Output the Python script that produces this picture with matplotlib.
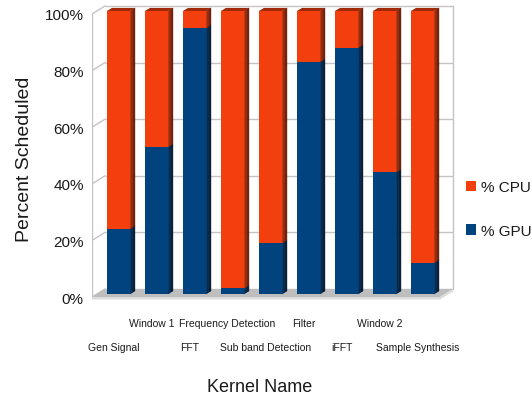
import matplotlib
matplotlib.use("Agg")
import matplotlib.pyplot as plt
from matplotlib.patches import Polygon, Patch
from matplotlib import font_manager
import numpy as np

# ---- data -------------------------------------------------------------
kernels = ["Gen Signal", "Window 1", "FFT", "Frequency Detection",
           "Sub band Detection", "Filter", "iFFT", "Window 2",
           "Sample Synthesis"]
gpu_pct = [23, 52, 94, 2, 18, 82, 87, 43, 11]
cpu_pct = [77, 48, 6, 98, 82, 18, 13, 57, 89]
y_ticks = [0, 20, 40, 60, 80, 100]
y_tick_labels = ["0%", "20%", "40%", "60%", "80%", "100%"]

# ---- style ------------------------------------------------------------
names = {f.name for f in font_manager.fontManager.ttflist}
FONT = "Liberation Sans"
NARROW = "Liberation Sans Narrow" if "Liberation Sans Narrow" in names else FONT
plt.rcParams["font.family"] = [FONT, "DejaVu Sans"]

CPU = "#f23f0d"
GPU = "#00437f"
CPU_SIDE = ("#c2320a", "#5e1604")
GPU_SIDE = ("#003566", "#00152b")
CPU_TOP = "#a02a08"
GPU_TOP = "#002c55"
GRID = "#c4c4c4"
TEXT = "#1a1a1a"

# pseudo-3D geometry (data units: x = category, y = percent)
bar_w = 0.605
DX, DY = 0.342, 2.83          # depth vector of the chart box
F1, F2 = 0.375, 0.76          # front / back depth of the bars
X0, X1 = -0.568, 8.59         # front edge of the floor

fig = plt.figure(figsize=(5.32, 4.02), dpi=100)
ax = fig.add_axes([92 / 532, 1 - 302 / 402, 363 / 532, 299 / 402])
ax.set_xlim(-0.568, 8.984)
ax.set_ylim(-1.413, 104.24)
for s in ax.spines.values():
    s.set_visible(False)

# back wall grid, left slanted edges and box outline
for v in y_ticks:
    ax.plot([X0 + DX, X1 + DX], [v + DY, v + DY], color=GRID, lw=1.0,
            zorder=0, solid_capstyle="butt")
    ax.plot([X0, X0 + DX], [v, v + DY], color=GRID, lw=1.0, zorder=0)
ax.plot([X0, X0], [0, 100], color=GRID, lw=1.0, zorder=0)
ax.plot([X1 + DX, X1 + DX], [DY, 100 + DY], color=GRID, lw=1.0, zorder=0)

# floor
ax.add_patch(Polygon([(X0, 0), (X1, 0), (X1 + DX, DY), (X0 + DX, DY)],
                     closed=True, facecolor="#bebebe", edgecolor="none",
                     zorder=1))
ax.add_patch(Polygon([(X0, -0.9), (X1, -0.9), (X1 + DX, DY - 0.9),
                      (X1 + DX, DY), (X1, 0), (X0, 0)],
                     closed=True, facecolor="#dcdcdc", edgecolor="none",
                     zorder=1))

x = np.arange(len(kernels))
xf = x + F1 * DX                 # bar front centres
base = F1 * DY
ax.bar(xf, gpu_pct, width=bar_w, bottom=base, color=GPU, zorder=3,
       linewidth=0)
ax.bar(xf, cpu_pct, width=bar_w, bottom=base + np.array(gpu_pct),
       color=CPU, zorder=3, linewidth=0)

s = F2 - F1
n_strips = 8


def side_face(xr, y0, y1, cols):
    c0 = np.array(matplotlib.colors.to_rgb(cols[0]))
    c1 = np.array(matplotlib.colors.to_rgb(cols[1]))
    for k in range(n_strips):
        a, b = k / n_strips, (k + 1) / n_strips
        col = c0 + (c1 - c0) * (k + 0.5) / n_strips
        pts = [(xr + a * s * DX, y0 + a * s * DY),
               (xr + b * s * DX, y0 + b * s * DY),
               (xr + b * s * DX, y1 + b * s * DY),
               (xr + a * s * DX, y1 + a * s * DY)]
        ax.add_patch(Polygon(pts, closed=True, facecolor=col,
                             edgecolor=col, lw=0.3, zorder=2.5))


for i in range(len(kernels)):
    xl = xf[i] - bar_w / 2
    xr = xf[i] + bar_w / 2
    g = gpu_pct[i]
    c = cpu_pct[i]
    side_face(xr, base, base + g, GPU_SIDE)
    side_face(xr, base + g, base + g + c, CPU_SIDE)
    top = base + g + c
    top_col = CPU_TOP if c > 0 else GPU_TOP
    ax.add_patch(Polygon([(xl, top), (xr, top), (xr + s * DX, top + s * DY),
                          (xl + s * DX, top + s * DY)], closed=True,
                         facecolor=top_col, edgecolor="none", zorder=2.6))

# axes ticks and labels
ax.set_yticks(y_ticks)
ax.set_yticklabels(y_tick_labels, fontsize=11, color=TEXT)
ax.tick_params(axis="y", length=0, pad=6)

ax.set_xticks(x[0::2])
ax.set_xticklabels(kernels[0::2], fontsize=7.5, color=TEXT)
ax.set_xticks(x[1::2], minor=True)
ax.set_xticklabels(kernels[1::2], minor=True, fontsize=7.5, color=TEXT)
ax.tick_params(axis="x", which="major", length=0, pad=29.5)
ax.tick_params(axis="x", which="minor", length=0, pad=12)

fig.text(260 / 532, 1 - 388 / 402, "Kernel Name", ha="center", va="center",
         fontsize=13, color=TEXT, family=[NARROW, "DejaVu Sans"])
fig.text(25 / 532, 1 - 159 / 402, "Percent Scheduled", ha="center",
         va="center", rotation=90, fontsize=14, color=TEXT)

handles = [Patch(facecolor=CPU, edgecolor="none"),
           Patch(facecolor=GPU, edgecolor="none")]
leg = fig.legend(handles, ["% CPU", "% GPU"], loc="upper left",
                 bbox_to_anchor=(466 / 532, 1 - 181 / 402), frameon=False,
                 fontsize=11, handlelength=0.65, handleheight=0.65,
                 handletextpad=0.35, labelspacing=1.95, borderpad=0,
                 borderaxespad=0)
for t in leg.get_texts():
    t.set_color(TEXT)

fig.savefig("out.png", dpi=100)
